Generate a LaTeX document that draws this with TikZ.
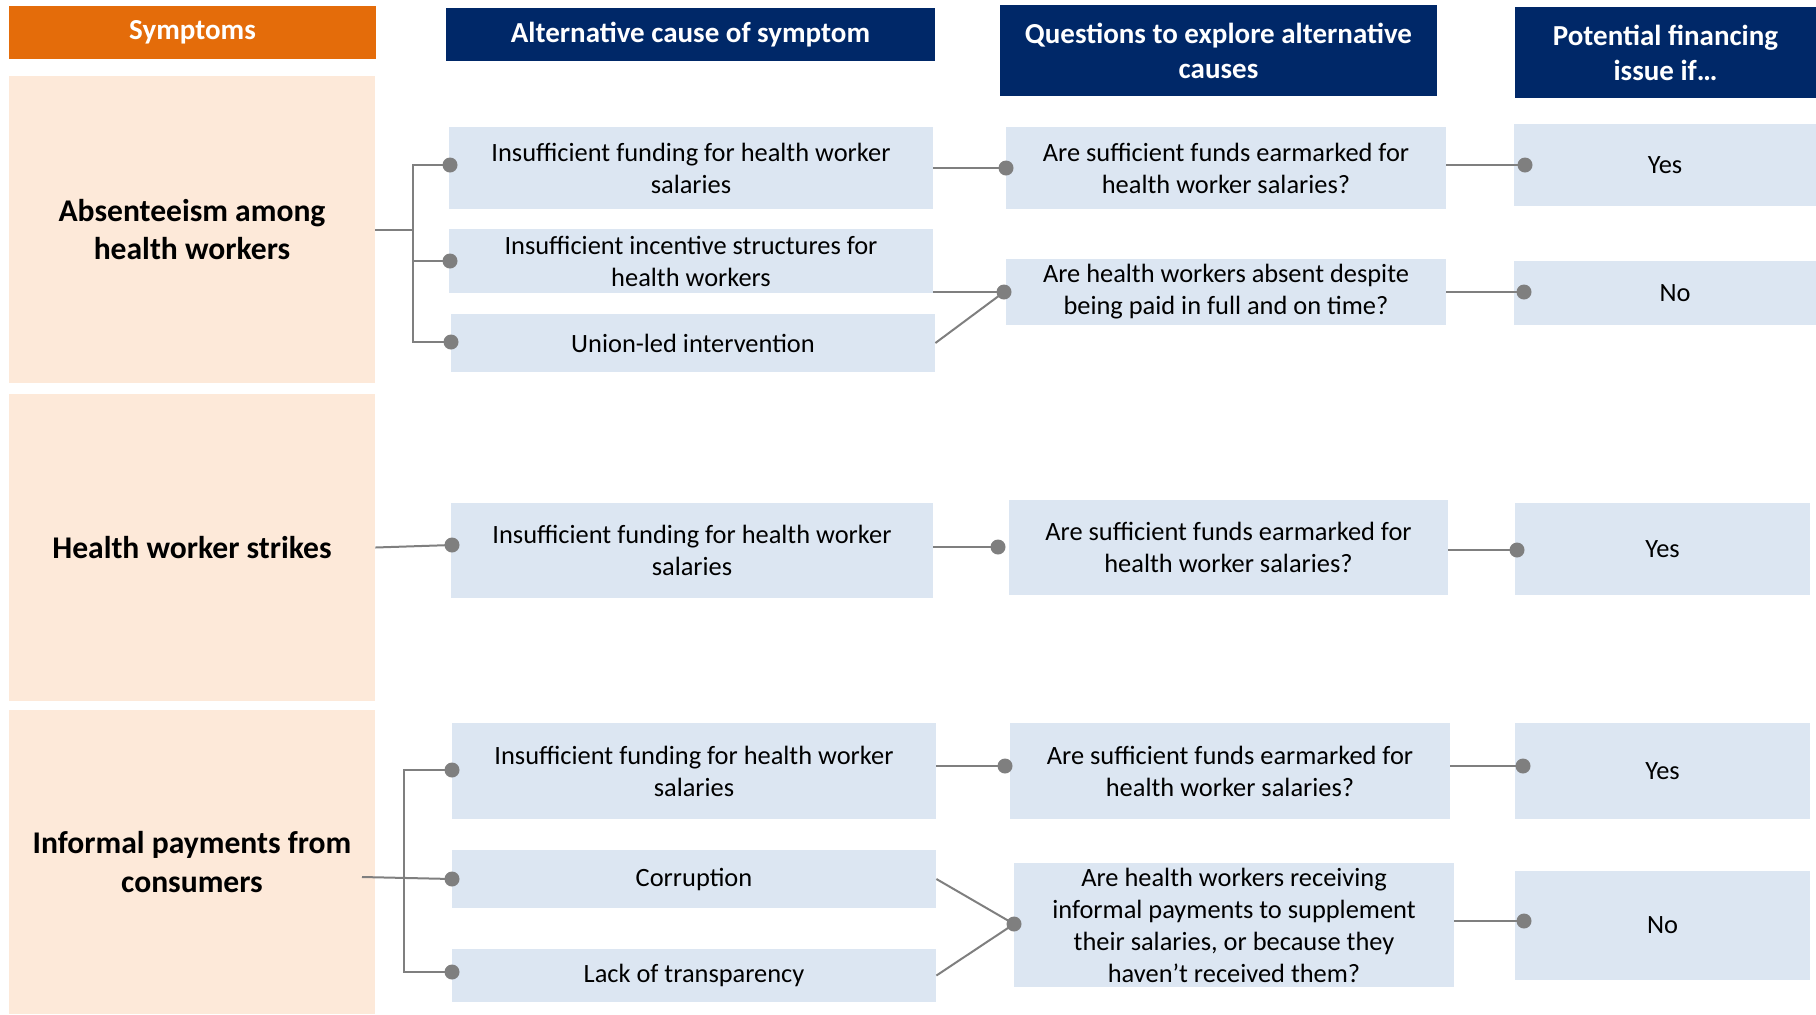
\documentclass[tikz,border=0pt]{standalone}
\usepackage{fontspec}
\setmainfont{Carlito}
\usetikzlibrary{positioning}
\definecolor{hdorange}{RGB}{228,108,10}
\definecolor{hdnavy}{RGB}{0,40,104}
\definecolor{sympeach}{RGB}{253,233,217}
\definecolor{boxblue}{RGB}{220,230,242}
\definecolor{lngray}{RGB}{127,127,127}
\tikzset{
  hdr/.style={fill=hdnavy, text=white, inner sep=0pt, align=center,
    font=\bfseries\fontsize{14.5bp}{17.5bp}\selectfont},
  symhdr/.style={hdr, fill=hdorange},
  symbox/.style={fill=sympeach, inner sep=0pt, align=center,
    font=\bfseries\fontsize{15.8bp}{19.2bp}\selectfont},
  cbox/.style={fill=boxblue, inner sep=0pt, align=center,
    font=\fontsize{13.2bp}{16bp}\selectfont},
  link/.style={draw=lngray, line width=1bp},
}
\begin{document}
\begin{tikzpicture}[x=0.5bp, y=-0.5bp]
\useasboundingbox (0,0) rectangle (1816,1014);
% Column headers
\node[symhdr, minimum width=183.5bp, minimum height=26.5bp] (hsym) at (192.5,32.5) {Symptoms};
\node[hdr, minimum width=244.5bp, minimum height=26.5bp] (hcause) at (690.5,34.5) {Alternative cause of symptom};
\node[hdr, minimum width=218.5bp, minimum height=45.5bp] (hquest) at (1218.5,50.5) {Questions to explore alternative\\causes};
\node[hdr, minimum width=150.5bp, minimum height=45.5bp] (hissue) at (1665.5,52.5) {Potential financing\\issue if\dots};
% Symptoms
\node[symbox, minimum width=183bp, minimum height=153.5bp] (s1) at (192,229.5) {Absenteeism among\\health workers};
\node[symbox, minimum width=183bp, minimum height=153.5bp] (s2) at (192,547.5) {Health worker strikes};
\node[symbox, minimum width=183bp, minimum height=152bp] (s3) at (192,862) {Informal payments from\\consumers};
% Alternative causes
\node[cbox, minimum width=242bp, minimum height=41bp] (c1) at (691,168) {Insufficient funding for health worker\\salaries};
\node[cbox, minimum width=242bp, minimum height=32bp] (c2) at (691,261) {Insufficient incentive structures for\\health workers};
\node[cbox, minimum width=242bp, minimum height=29bp] (c3) at (693,343) {Union-led intervention};
\node[cbox, minimum width=241bp, minimum height=47.5bp] (c4) at (692,550.5) {Insufficient funding for health worker\\salaries};
\node[cbox, minimum width=242bp, minimum height=48bp] (c5) at (694,771) {Insufficient funding for health worker\\salaries};
\node[cbox, minimum width=242bp, minimum height=29bp] (c6) at (694,879) {Corruption};
\node[cbox, minimum width=242bp, minimum height=26.5bp] (c7) at (694,975.5) {Lack of transparency};
% Questions
\node[cbox, minimum width=220bp, minimum height=41bp] (q1) at (1226,168) {Are sufficient funds earmarked for\\health worker salaries?};
\node[cbox, minimum width=220bp, minimum height=33bp] (q2) at (1226,292) {Are health workers absent despite\\being paid in full and on time?};
\node[cbox, minimum width=219.5bp, minimum height=47.5bp] (q3) at (1228.5,547.5) {Are sufficient funds earmarked for\\health worker salaries?};
\node[cbox, minimum width=220bp, minimum height=48bp] (q4) at (1230,771) {Are sufficient funds earmarked for\\health worker salaries?};
\node[cbox, minimum width=220bp, minimum height=62bp] (q5) at (1234,925) {Are health workers receiving\\informal payments to supplement\\their salaries, or because they\\haven’t received them?};
% Answers
\node[cbox, minimum width=151bp, minimum height=41bp] (a1) at (1665,165) {Yes};
\node[cbox, minimum width=151bp, minimum height=32bp] (a2) at (1665,293) {\hspace*{10bp}No};
\node[cbox, minimum width=147.5bp, minimum height=46bp] (a3) at (1662.5,549) {Yes};
\node[cbox, minimum width=147.5bp, minimum height=48bp] (a4) at (1662.5,771) {Yes};
\node[cbox, minimum width=147.5bp, minimum height=54.5bp] (a5) at (1662.5,925.5) {No};
% Connector ends
\coordinate (dc1) at (450,165);
\coordinate (dc2) at (450,261);
\coordinate (dc3) at (451,342);
\coordinate (dc4) at (452,545);
\coordinate (dc5) at (452,770);
\coordinate (dc6) at (452,879);
\coordinate (dc7) at (452,972);
\coordinate (dq1) at (1006,168);
\coordinate (dq2) at (1004,292);
\coordinate (dq3) at (998,547);
\coordinate (dq4) at (1005,766);
\coordinate (dq5) at (1014,924);
\coordinate (da1) at (1525,165);
\coordinate (da2) at (1524,292);
\coordinate (da3) at (1517,550);
\coordinate (da4) at (1523,766);
\coordinate (da5) at (1524,921);
\coordinate (b1) at (413,229.5);
\coordinate (b3) at (404,879);
\coordinate (s3out) at (362,877);
% Symptom to causes
\draw[link] (s1.east) -- (b1);
\foreach \d in {dc1,dc2,dc3} \draw[link] (\d) -| (b1);
\draw[link] (s2.east) -- (dc4);
\draw[link] (s3out) -- (dc6);
\foreach \d in {dc5,dc7} \draw[link] (\d) -| (b3);
% Causes to questions
\draw[link] (c1.east) -- (dq1);
\draw[link] (c2.east |- dq2) -- (dq2);
\draw[link] (c3.east) -- (dq2);
\draw[link] (c4.east |- dq3) -- (dq3);
\draw[link] (c5.east |- dq4) -- (dq4);
\draw[link] (c6.east) -- (dq5);
\draw[link] (c7.east) -- (dq5);
% Questions to answers
\draw[link] (q1.east |- da1) -- (da1);
\draw[link] (q2.east) -- (da2);
\draw[link] (q3.east |- da3) -- (da3);
\draw[link] (q4.east |- da4) -- (da4);
\draw[link] (q5.east |- da5) -- (da5);
% Dots
\foreach \d in {dc1,dc2,dc3,dc4,dc5,dc6,dc7,dq1,dq2,dq3,dq4,dq5,da1,da2,da3,da4,da5}
  \fill[lngray] (\d) circle[radius=3.75bp];
\end{tikzpicture}
\end{document}
